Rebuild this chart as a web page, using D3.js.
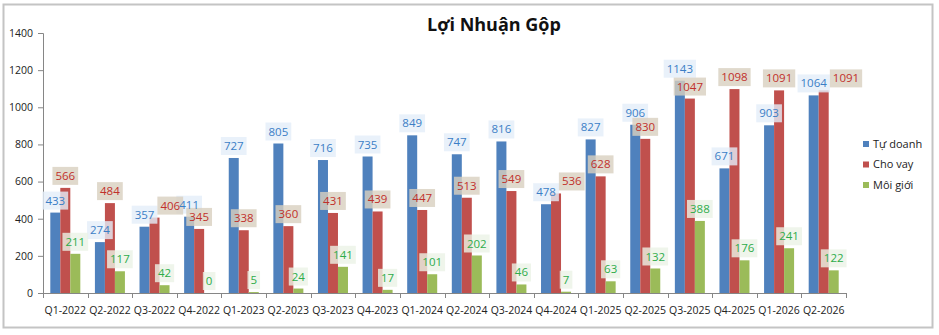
<!DOCTYPE html>
<html>
<head>
<meta charset="utf-8">
<script src="https://cdn.jsdelivr.net/npm/d3@7"></script>
<style>
  body { margin: 0; background: #fff; }
  svg { font-family: "Open Sans", "Noto Sans", sans-serif; }
</style>
</head>
<body>
<div id="chart"></div>
<script>
var quarters = ["Q1-2022", "Q2-2022", "Q3-2022", "Q4-2022", "Q1-2023", "Q2-2023",
  "Q3-2023", "Q4-2023", "Q1-2024", "Q2-2024", "Q3-2024", "Q4-2024",
  "Q1-2025", "Q2-2025", "Q3-2025", "Q4-2025", "Q1-2026", "Q2-2026"];
var tu_doanh = [433, 274, 357, 411, 727, 805, 716, 735, 849, 747, 816, 478, 827, 906, 1143, 671, 903, 1064];
var cho_vay = [566, 484, 406, 345, 338, 360, 431, 439, 447, 513, 549, 536, 628, 830, 1047, 1098, 1091, 1091];
var moi_gioi = [211, 117, 42, 0, 5, 24, 141, 17, 101, 202, 46, 7, 63, 132, 388, 176, 241, 122];
var series_names = ["Tự doanh", "Cho vay", "Môi giới"];
var y_ticks = [0, 200, 400, 600, 800, 1000, 1200, 1400];

function draw_chart(selector) {
  var width = 939, height = 335;
  var plot = { left: 43, right: 846, top: 33, bottom: 293 };

  var series = [
    { name: series_names[0], values: tu_doanh, color: "#4f81bd", text: "#3b7ec6", bg: "#e4eef9" },
    { name: series_names[1], values: cho_vay, color: "#c0504d", text: "#c0302b", bg: "#d8cfbf" },
    { name: series_names[2], values: moi_gioi, color: "#9bbb59", text: "#2eac4a", bg: "#ebf3e6" }
  ];

  var svg = d3.select(selector).append("svg")
    .attr("width", width)
    .attr("height", height);

  // outer frame
  svg.append("rect")
    .attr("x", 3.5).attr("y", 4.5)
    .attr("width", 929).attr("height", 323)
    .attr("fill", "#fff")
    .attr("stroke", "#c4c4c4")
    .attr("stroke-width", 2);

  svg.append("text")
    .attr("x", 494).attr("y", 31)
    .attr("text-anchor", "middle")
    .attr("font-size", 18)
    .attr("font-weight", "bold")
    .attr("fill", "#111")
    .text("Lợi Nhuận Gộp");

  var x0 = d3.scaleBand().domain(quarters).range([plot.left, plot.right]).padding(0);
  var x1 = d3.scaleBand().domain(d3.range(series.length))
    .range([0, x0.bandwidth()]).paddingInner(0).paddingOuter(0.73);
  var y = d3.scaleLinear().domain([0, 1400]).range([plot.bottom, plot.top]);

  // y axis
  var y_axis = svg.append("g")
    .attr("transform", "translate(" + plot.left + ",0)")
    .call(d3.axisLeft(y).tickValues(y_ticks).tickFormat(d3.format("d")).tickSize(5).tickPadding(5));
  y_axis.select(".domain").attr("stroke", "#868686");
  y_axis.selectAll(".tick line").attr("stroke", "#868686");
  y_axis.selectAll("text").attr("font-size", 10.5).attr("fill", "#222")
    .attr("font-family", "'Open Sans', sans-serif");

  // bars
  series.forEach(function(s, si) {
    svg.append("g").selectAll("rect").data(s.values).enter().append("rect")
      .attr("x", function(d, i) { return x0(quarters[i]) + x1(si); })
      .attr("y", function(d) { return y(d); })
      .attr("width", x1.bandwidth())
      .attr("height", function(d) { return y(0) - y(d); })
      .attr("fill", s.color);
  });

  // x axis (drawn over bar bottoms)
  svg.append("line")
    .attr("x1", plot.left).attr("x2", plot.right)
    .attr("y1", plot.bottom + 0.5).attr("y2", plot.bottom + 0.5)
    .attr("stroke", "#868686");
  var edges = quarters.map(function(q) { return x0(q); }).concat([plot.right]);
  svg.append("g").selectAll("line").data(edges).enter().append("line")
    .attr("x1", function(d) { return Math.round(d) + 0.5; })
    .attr("x2", function(d) { return Math.round(d) + 0.5; })
    .attr("y1", plot.bottom).attr("y2", plot.bottom + 5)
    .attr("stroke", "#868686");
  svg.append("g").selectAll("text").data(quarters).enter().append("text")
    .attr("x", function(d) { return x0(d) + x0.bandwidth() / 2; })
    .attr("y", plot.bottom + 21)
    .attr("text-anchor", "middle")
    .attr("font-size", 10.5)
    .attr("fill", "#222")
    .text(function(d) { return d; });

  // value labels, above each bar; nudged right when it would sit on the previous label
  // boxes go in one layer and texts above them so no number gets hidden
  var bg_layer = svg.append("g");
  var text_layer = svg.append("g");
  var placed = quarters.map(function() { return null; });
  series.forEach(function(s, si) {
    s.values.forEach(function(v, i) {
      var cx = x0(quarters[i]) + x1(si) + x1.bandwidth() / 2;
      var cy = y(v) - 12;
      var bg = bg_layer.append("rect").attr("fill", s.bg).attr("fill-opacity", 0.8);
      var t = text_layer.append("text")
        .attr("text-anchor", "middle")
        .attr("dy", "0.35em")
        .attr("font-size", 11.5)
        .attr("fill", s.text)
        .text(v);
      var w = t.node().getComputedTextLength() + 6;
      var prev = placed[i];
      if (prev && Math.abs(prev.cy - cy) < 12 && cx - w / 2 < prev.cx + prev.w / 2) {
        cx = prev.cx + prev.w / 2 + w / 2;
      }
      placed[i] = { cx: cx, cy: cy, w: w };
      t.attr("x", cx).attr("y", cy);
      bg.attr("x", cx - w / 2).attr("y", cy - 9).attr("width", w).attr("height", 18);
    });
  });

  // legend
  var legend = svg.append("g").attr("transform", "translate(863,144)");
  series.forEach(function(s, si) {
    var row = legend.append("g").attr("transform", "translate(0," + (si * 20.5) + ")");
    row.append("rect").attr("x", 0).attr("y", -3).attr("width", 6).attr("height", 6).attr("fill", s.color);
    row.append("text").attr("x", 10).attr("dy", "0.35em")
      .attr("font-size", 11).attr("fill", "#222").text(s.name);
  });
}

draw_chart("#chart");
</script>
</body>
</html>
